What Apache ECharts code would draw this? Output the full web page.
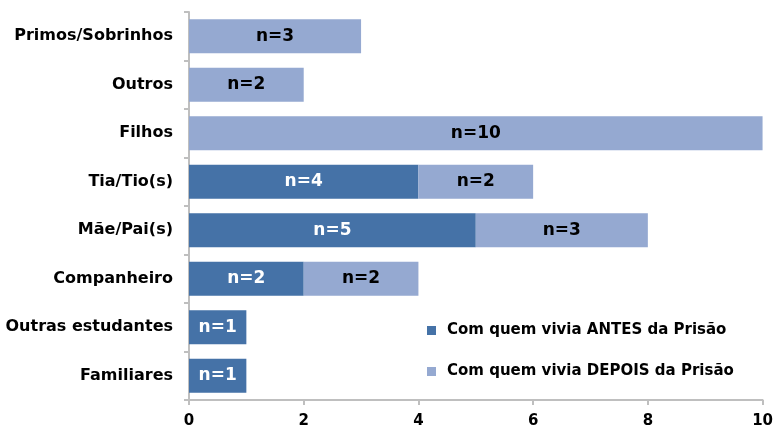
<!DOCTYPE html>
<html><head><meta charset="utf-8">
<script src="https://cdn.jsdelivr.net/npm/echarts@6/dist/echarts.min.js"></script>
<style>html,body{margin:0;padding:0;background:#fff}#c{width:776px;height:432px}</style>
</head><body><div id="c"></div>
<script>
const categories = ['Familiares','Outras estudantes','Companheiro','Mãe/Pai(s)','Tia/Tio(s)','Filhos','Outros','Primos/Sobrinhos'];
const antes = [1,1,2,5,4,0,0,0];
const depois = [0,0,2,3,2,10,2,3];
const seriesNames = ['Com quem vivia ANTES da Prisão','Com quem vivia DEPOIS da Prisão'];
const xTicks = [0,2,4,6,8,10];

const font = '"DejaVu Sans", sans-serif';
const chart = echarts.init(document.getElementById('c'));
chart.setOption({
  animation:false,
  grid:{left:189,right:13,top:12,bottom:32},
  legend:{
    orient:'vertical', left:422, top:318, itemGap:26,
    itemWidth:9, itemHeight:9, icon:'rect',
    textStyle:{fontFamily:font,fontWeight:'bold',fontSize:15,color:'#000',padding:[0,0,0,6]},
    data:seriesNames
  },
  xAxis:{
    type:'value', min:xTicks[0], max:xTicks[xTicks.length-1], interval:2,
    axisLine:{show:true,lineStyle:{color:'#bfbfbf',width:2}},
    axisTick:{show:true,length:5,lineStyle:{color:'#bfbfbf',width:2}},
    splitLine:{show:false},
    axisLabel:{fontFamily:font,fontWeight:'bold',fontSize:15,color:'#000',margin:14}
  },
  yAxis:{
    type:'category', data:categories,
    axisLine:{show:true,lineStyle:{color:'#bfbfbf',width:2}},
    axisTick:{show:true,length:5,lineStyle:{color:'#bfbfbf',width:2}},
    axisLabel:{fontFamily:font,fontWeight:'bold',fontSize:16,color:'#000',margin:16}
  },
  series:[
    {name:seriesNames[0],type:'bar',stack:'a',barCategoryGap:'30%',
     itemStyle:{color:'#4572A7'},
     data:antes.map(v=>v||null),
     label:{show:true,position:'inside',formatter:p=>'n='+p.value,color:'#fff',fontFamily:font,fontWeight:'bold',fontSize:17}},
    {name:seriesNames[1],type:'bar',stack:'a',barCategoryGap:'30%',
     itemStyle:{color:'#95A9D1'},
     data:depois.map(v=>v||null),
     label:{show:true,position:'inside',formatter:p=>'n='+p.value,color:'#000',fontFamily:font,fontWeight:'bold',fontSize:17}}
  ]
});
</script></body></html>
